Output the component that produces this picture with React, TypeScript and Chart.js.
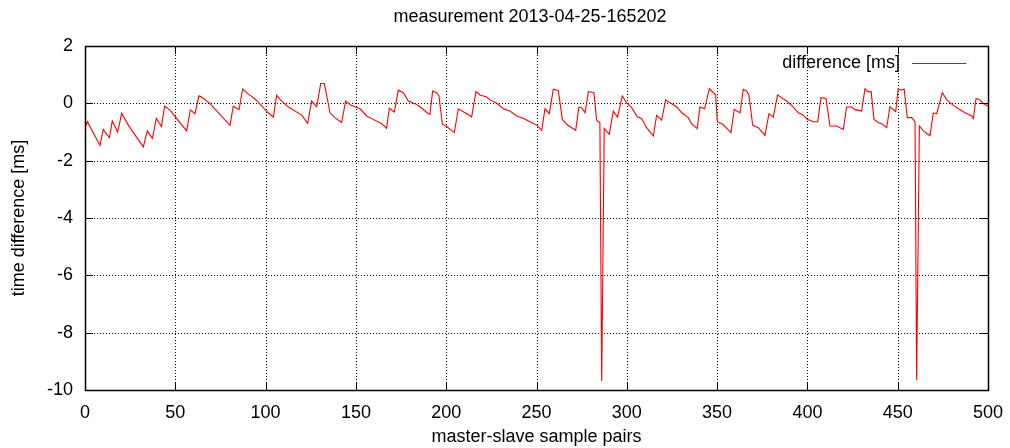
import React, { useEffect, useRef } from "react";
import { Chart, registerables } from "chart.js";

Chart.register(...registerables);

const TITLE = "measurement 2013-04-25-165202";
const X_TITLE = "master-slave sample pairs";
const Y_TITLE = "time difference [ms]";
const SERIES_LABEL = "difference [ms]";

const X_TICKS = [0, 50, 100, 150, 200, 250, 300, 350, 400, 450, 500];
const Y_TICKS = [2, 0, -2, -4, -6, -8, -10];

// vertices of the measured curve (sample index, difference in ms)
const sampleX = [
  0, 1.3, 8.3, 10.1, 13.5, 15.1, 18.1, 20.3, 24, 26.8, 32.3, 34.5, 37.3, 39.5, 42.3, 44.1, 46.7,
  56.3, 58.3, 60.9, 63.1, 64.6, 69.2, 80.3, 82.1, 85.3, 87.3, 90.1, 91.9, 95, 97.8, 101.5, 104.3,
  106.1, 108.9, 112.6, 120, 123.3, 125.5, 128.3, 130.5, 132.5, 135.7, 138.4, 142.1, 144.3, 147.3,
  149.5, 152.3, 156, 159.6, 164.3, 167, 168.5, 171.3, 173.5, 176.3, 179, 182.7, 185.5, 190.1, 191,
  192.5, 194.7, 196, 197.9, 200.3, 204.5, 206.7, 210.4, 214.1, 216.5, 218.7, 222.4, 224.3, 228,
  231.6, 235.3, 239, 242.7, 246.4, 250.1, 252.9, 254.7, 257.1, 259.3, 262.1, 264.3, 266.7, 269.5,
  271.7, 273.5, 275, 276.9, 278.7, 281.8, 283.3, 285.1, 286.1, 287.5, 290.3, 292.5, 294.9, 297.5,
  299.9, 302.7, 306, 308.2, 311, 314.7, 316.5, 319.3, 321.5, 323.9, 327.6, 330.4, 334, 335.9, 339,
  340.5, 343.1, 345.7, 347.9, 349.2, 350.1, 353.1, 357.7, 359.5, 362.7, 364.5, 366.3, 367.6, 369.7,
  372.8, 376.5, 378.7, 381.1, 383.5, 385.7, 388.5, 391.3, 395, 397.7, 399.9, 403.3, 405.7, 407.5,
  410.3, 412.5, 416.2, 419.9, 421.7, 424.5, 426.3, 430, 431.9, 433.4, 435.3, 436.9, 439.3, 441.1,
  443.9, 445.7, 448.9, 450.3, 451.6, 453.6, 455.3, 457.7, 459.6, 460.5, 462, 464.2, 467.9, 469.7,
  471.6, 474.7, 477.1, 479.9, 483.6, 487.3, 491, 491.9, 493.4, 495.6, 497.4, 500,
];

const sampleDiff = [
  -0.85, -0.64, -1.47, -0.91, -1.2, -0.62, -1.0, -0.35, -0.76, -1.02, -1.52, -0.96, -1.22, -0.53,
  -0.81, -0.1, -0.21, -0.96, -0.23, -0.36, 0.26, 0.22, -0.01, -0.77, -0.1, -0.22, 0.5, 0.34, 0.26,
  0.1, -0.09, -0.33, -0.48, 0.28, 0.08, -0.13, -0.41, -0.7, 0.08, -0.12, 0.69, 0.69, -0.33, -0.5,
  -0.67, 0.08, -0.07, -0.12, -0.19, -0.44, -0.56, -0.71, -0.87, -0.17, -0.3, 0.46, 0.37, 0.08,
  -0.01, -0.12, -0.36, -0.38, 0.43, 0.37, 0.26, -0.73, -0.81, -1.02, -0.19, -0.33, -0.47, 0.41,
  0.29, 0.22, 0.12, 0.0, -0.19, -0.27, -0.44, -0.52, -0.64, -0.76, -0.94, -0.19, -0.36, 0.49, 0.45,
  -0.56, -0.73, -0.85, -0.94, -0.13, -0.15, -0.33, 0.41, 0.37, -0.59, -0.67, -9.69, -0.88, -1.08,
  -0.27, -0.48, 0.26, 0.02, -0.15, -0.48, -0.53, -0.85, -1.14, -0.42, -0.59, 0.12, 0.02, -0.12,
  -0.33, -0.5, -0.71, -0.88, -0.13, -0.19, 0.51, 0.37, 0.3, -0.64, -0.73, -1.02, -0.21, -0.33, 0.49,
  0.43, 0.29, -0.76, -0.85, -1.12, -0.36, -0.48, 0.29, 0.2, 0.08, -0.07, -0.33, -0.41, -0.56, -0.64,
  -0.64, 0.2, 0.17, -0.79, -0.79, -0.91, -0.13, -0.13, -0.22, -0.27, 0.51, 0.41, 0.41, -0.56, -0.67,
  -0.71, -0.85, -0.12, -0.29, 0.52, 0.46, 0.49, -0.5, -0.5, -0.64, -9.65, -0.79, -0.96, -1.13,
  -0.34, -0.36, 0.37, 0.14, -0.03, -0.19, -0.33, -0.44, -0.53, 0.17, 0.12, -0.01, -0.09,
];

const FONT_FAMILY = "'Liberation Sans', Arial, Helvetica, sans-serif";
const FONT_SIZE = 18;

const frame = {
  id: "gnuplotFrame",
  beforeDatasetsDraw(chart: any) {
    const { ctx, chartArea: a, scales } = chart;
    const xs = scales.x;
    const ys = scales.y;
    ctx.save();
    ctx.strokeStyle = "#000";
    ctx.lineWidth = 1;
    ctx.setLineDash([1, 2]);
    X_TICKS.forEach((v, i) => {
      if (i === 0 || i === X_TICKS.length - 1) return;
      const px = Math.round(xs.getPixelForValue(v)) + 0.5;
      ctx.beginPath();
      ctx.moveTo(px, a.top);
      ctx.lineTo(px, a.bottom);
      ctx.stroke();
    });
    Y_TICKS.forEach((v, i) => {
      if (i === 0 || i === Y_TICKS.length - 1) return;
      const py = Math.round(ys.getPixelForValue(v)) + 0.5;
      ctx.beginPath();
      ctx.moveTo(a.left, py);
      ctx.lineTo(a.right, py);
      ctx.stroke();
    });
    ctx.restore();
  },
  afterDraw(chart: any) {
    const { ctx, chartArea: a, scales } = chart;
    const xs = scales.x;
    const ys = scales.y;
    const tl = 8;
    ctx.save();
    ctx.strokeStyle = "#000";
    ctx.lineWidth = 1;
    ctx.setLineDash([]);
    ctx.beginPath();
    X_TICKS.forEach((v) => {
      const px = Math.round(xs.getPixelForValue(v)) + 0.5;
      ctx.moveTo(px, a.bottom);
      ctx.lineTo(px, a.bottom - tl);
      ctx.moveTo(px, a.top);
      ctx.lineTo(px, a.top + tl);
    });
    Y_TICKS.forEach((v) => {
      const py = Math.round(ys.getPixelForValue(v)) + 0.5;
      ctx.moveTo(a.left, py);
      ctx.lineTo(a.left + tl, py);
      ctx.moveTo(a.right, py);
      ctx.lineTo(a.right - tl, py);
    });
    ctx.stroke();
    ctx.lineWidth = 1.5;
    ctx.strokeRect(Math.round(a.left) + 0.5, Math.round(a.top) + 0.5, Math.round(a.right - a.left), Math.round(a.bottom - a.top));

    // title
    ctx.fillStyle = "#000";
    ctx.font = `${FONT_SIZE}px ${FONT_FAMILY}`;
    ctx.textAlign = "center";
    ctx.textBaseline = "middle";
    ctx.fillText(TITLE, 530, 17);

    // legend
    ctx.textAlign = "right";
    ctx.fillText(SERIES_LABEL, 900, 63);
    ctx.strokeStyle = "#ff0000";
    ctx.lineWidth = 1;
    ctx.beginPath();
    ctx.moveTo(912, 63.5);
    ctx.lineTo(966, 63.5);
    ctx.stroke();
    ctx.restore();
  },
};

export default function App() {
  const ref = useRef<HTMLCanvasElement | null>(null);

  useEffect(() => {
    if (!ref.current) return;
    const points = sampleX.map((x, i) => ({ x, y: sampleDiff[i] }));
    const font = { family: FONT_FAMILY, size: FONT_SIZE };
    const chart = new Chart(ref.current, {
      type: "line",
      data: {
        datasets: [
          {
            label: SERIES_LABEL,
            data: points,
            borderColor: "#ff0000",
            borderWidth: 1.1,
            pointRadius: 0,
            tension: 0,
            fill: false,
          },
        ],
      },
      options: {
        animation: false,
        responsive: false,
        events: [],
        layout: { padding: { top: 46, right: 22, left: 0, bottom: 0 } },
        plugins: {
          legend: { display: false },
          title: { display: false },
          tooltip: { enabled: false },
        },
        scales: {
          x: {
            type: "linear",
            min: 0,
            max: 500,
            afterFit: (s: any) => {
              s.height = 58;
              s.paddingLeft = 0;
              s.paddingRight = 0;
            },
            afterBuildTicks: (s: any) => {
              s.ticks = X_TICKS.map((v) => ({ value: v }));
            },
            grid: { display: false, drawTicks: false },
            border: { display: false },
            ticks: { color: "#000", font, padding: 12, maxRotation: 0, autoSkip: false },
            title: { display: true, text: X_TITLE, color: "#000", font, padding: { top: 0, bottom: 0 } },
          },
          y: {
            type: "linear",
            min: -10,
            max: 2,
            afterFit: (s: any) => {
              s.width = 85;
              s.paddingTop = 0;
              s.paddingBottom = 0;
            },
            afterBuildTicks: (s: any) => {
              s.ticks = Y_TICKS.map((v) => ({ value: v }));
            },
            grid: { display: false, drawTicks: false },
            border: { display: false },
            ticks: { color: "#000", font, padding: 12 },
            title: { display: true, text: Y_TITLE, color: "#000", font, padding: { top: 8, bottom: 0 } },
          },
        },
      },
      plugins: [frame],
    });
    return () => chart.destroy();
  }, []);

  return (
    <div style={{ position: "absolute", left: 0, top: 0, width: 1010, height: 448, background: "#fff" }}>
      <canvas ref={ref} width={1010} height={448} style={{ display: "block" }} />
    </div>
  );
}
